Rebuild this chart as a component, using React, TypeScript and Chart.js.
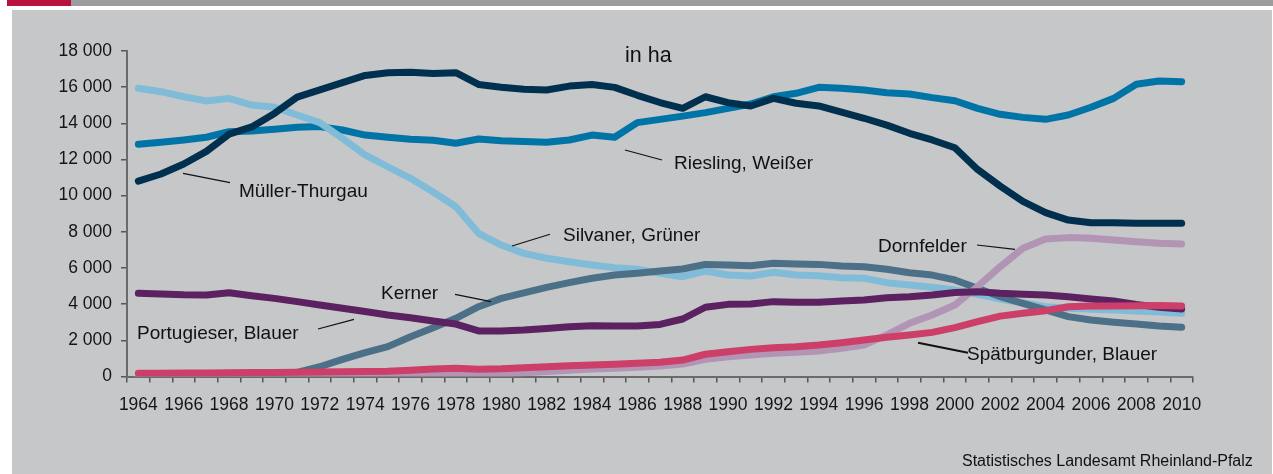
import React, { useEffect, useRef } from 'react';
import { Chart, registerables } from 'chart.js';

Chart.register(...registerables);

const years = [
  '1964', '1965', '1966', '1967', '1968', '1969', '1970', '1971', '1972', '1973',
  '1974', '1975', '1976', '1977', '1978', '1979', '1980', '1981', '1982', '1983',
  '1984', '1985', '1986', '1987', '1988', '1989', '1990', '1991', '1992', '1993',
  '1994', '1995', '1996', '1997', '1998', '1999', '2000', '2001', '2002', '2003',
  '2004', '2005', '2006', '2007', '2008', '2009', '2010',
];

const muellerThurgau = [
  10800, 11200, 11750, 12450, 13400, 13800, 14550, 15450, 15850, 16250,
  16650, 16800, 16830, 16750, 16800, 16150, 16000, 15880, 15840, 16060,
  16150, 15990, 15550, 15150, 14830, 15470, 15140, 14960, 15380, 15110,
  14960, 14620, 14280, 13900, 13450, 13080, 12650, 11450, 10530, 9680,
  9060, 8650, 8500, 8500, 8480, 8470, 8470,
];

const riesling = [
  12840, 12950, 13080, 13230, 13540, 13580, 13670, 13780, 13820, 13630,
  13350, 13230, 13120, 13060, 12900, 13130, 13040, 12990, 12950, 13080,
  13350, 13230, 14040, 14220, 14400, 14590, 14830, 15070, 15470, 15660,
  15990, 15940, 15840, 15690, 15620, 15420, 15250, 14830, 14500, 14330,
  14220, 14460, 14890, 15380, 16160, 16340, 16300,
];

const silvaner = [
  15940, 15750, 15470, 15240, 15380, 15010, 14890, 14460, 14040, 13170,
  12250, 11600, 10960, 10200, 9390, 7920, 7270, 6810, 6540, 6350,
  6170, 6020, 5930, 5710, 5520, 5830, 5610, 5560, 5760, 5610,
  5570, 5460, 5430, 5190, 5060, 4930, 4780, 4545, 4285, 4080,
  3860, 3770, 3715, 3680, 3620, 3570, 3500,
];

const kerner = [
  null, null, null, null, null, null, 50, 230, 540, 950,
  1320, 1650, 2200, 2700, 3220, 3860, 4320, 4630, 4930, 5190,
  5430, 5610, 5710, 5830, 5945, 6200, 6170, 6130, 6260, 6220,
  6200, 6110, 6070, 5930, 5740, 5610, 5340, 4880, 4410, 4050,
  3680, 3310, 3120, 3000, 2900, 2790, 2720,
];

const portugieser = [
  4600, 4560, 4520, 4510, 4630, 4470, 4320, 4140, 3950, 3770,
  3590, 3400, 3250, 3070, 2900, 2520, 2520, 2570, 2660, 2750,
  2810, 2790, 2790, 2880, 3180, 3830, 3990, 4010, 4140, 4100,
  4100, 4170, 4230, 4360, 4410, 4510, 4650, 4690, 4600, 4550,
  4510, 4410, 4290, 4180, 3990, 3830, 3730,
];

const spaetburgunder = [
  180, 185, 190, 200, 210, 215, 220, 235, 250, 260,
  270, 290, 350, 415, 450, 400, 430, 490, 540, 600,
  640, 675, 730, 785, 910, 1230, 1370, 1500, 1595, 1650,
  1740, 1870, 2020, 2170, 2300, 2440, 2700, 3030, 3340, 3500,
  3640, 3860, 3900, 3900, 3910, 3920, 3900,
];

const dornfelder = [
  0, 0, 0, 0, 0, 0, 0, 0, 0, 0,
  0, 0, 20, 50, 80, 110, 150, 210, 270, 340,
  415, 460, 510, 580, 690, 950, 1095, 1190, 1280, 1340,
  1410, 1560, 1740, 2300, 2940, 3400, 3950, 4970, 6070, 7090,
  7600, 7680, 7640, 7550, 7450, 7370, 7330,
];

const FONT = '"Liberation Sans", Arial, Helvetica, sans-serif';

function fmtThousands(v: number): string {
  if (v < 1000) return String(v);
  const th = Math.floor(v / 1000);
  const rest = String(v % 1000).padStart(3, '0');
  return `${th} ${rest}`;
}

const lineBase = {
  borderWidth: 7,
  pointRadius: 0,
  pointHoverRadius: 0,
  tension: 0,
  fill: false,
  borderCapStyle: 'round' as const,
  borderJoinStyle: 'round' as const,
  spanGaps: false,
};

const labelStyle = (left: number, cy: number, size: number): React.CSSProperties => ({
  position: 'absolute',
  left,
  top: cy - size * 0.5,
  fontSize: size,
  lineHeight: 1,
  fontFamily: FONT,
  color: '#111',
  whiteSpace: 'nowrap',
});

export default function App() {
  const ref = useRef<HTMLCanvasElement>(null);

  useEffect(() => {
    document.body.style.margin = '0';
    const ctx = ref.current!;
    const chart = new Chart(ctx, {
      type: 'line',
      data: {
        labels: years,
        datasets: [
          { ...lineBase, label: 'Müller-Thurgau', data: muellerThurgau, borderColor: '#00304e' },
          { ...lineBase, label: 'Spätburgunder, Blauer', data: spaetburgunder, borderColor: '#cc3f68' },
          { ...lineBase, label: 'Portugieser, Blauer', data: portugieser, borderColor: '#5c2160' },
          { ...lineBase, label: 'Dornfelder', data: dornfelder, borderColor: '#b294b5' },
          { ...lineBase, label: 'Kerner', data: kerner, borderColor: '#4b7087' },
          { ...lineBase, label: 'Silvaner, Grüner', data: silvaner, borderColor: '#80bcd8' },
          { ...lineBase, label: 'Riesling, Weißer', data: riesling, borderColor: '#0074a6' },
        ],
      },
      options: {
        animation: false,
        responsive: false,
        devicePixelRatio: 1,
        events: [],
        layout: { padding: { left: 0, right: 80, top: 51, bottom: 0 } },
        plugins: {
          legend: { display: false },
          tooltip: { enabled: false },
          title: { display: false },
        },
        scales: {
          x: {
            type: 'category',
            offset: true,
            grid: {
              offset: true,
              drawOnChartArea: false,
              drawTicks: true,
              tickLength: 6,
              color: '#555',
              lineWidth: 1.5,
            },
            border: { display: true, color: '#6a6a6a', width: 2 },
            ticks: {
              autoSkip: false,
              maxRotation: 0,
              minRotation: 0,
              padding: 12,
              color: '#151515',
              font: { family: FONT, size: 17.5 },
              callback: (_v: any, i: number) => (i % 2 === 0 ? years[i] : ''),
            },
            afterFit: (scale: any) => {
              scale.height = 97.5;
            },
          },
          y: {
            min: 0,
            max: 18000,
            grid: {
              drawOnChartArea: false,
              drawTicks: true,
              tickLength: 6,
              color: '#555',
              lineWidth: 1.5,
            },
            border: { display: true, color: '#6a6a6a', width: 2 },
            ticks: {
              stepSize: 2000,
              padding: 9,
              color: '#151515',
              font: { family: FONT, size: 17.5 },
              callback: (v: any) => fmtThousands(Number(v)),
            },
            afterFit: (scale: any) => {
              scale.width = 127;
            },
          },
        },
      },
    });
    return () => chart.destroy();
  }, []);

  return (
    <div
      style={{
        position: 'absolute',
        left: 0,
        top: 0,
        width: 1273,
        height: 474,
        overflow: 'hidden',
        background: '#ffffff',
        fontFamily: FONT,
      }}
    >
      <div style={{ position: 'absolute', left: 7, top: 0, width: 64, height: 6, background: '#b9123f' }} />
      <div style={{ position: 'absolute', left: 71, top: 0, width: 1202, height: 6, background: '#9c9c9c' }} />
      <div style={{ position: 'absolute', left: 12, top: 10, width: 1260, height: 464, background: '#c6c7c9' }} />
      <canvas
        ref={ref}
        width={1273}
        height={474}
        style={{ position: 'absolute', left: 0, top: 0, width: 1273, height: 474 }}
      />
      <svg
        width={1273}
        height={474}
        style={{ position: 'absolute', left: 0, top: 0, pointerEvents: 'none' }}
      >
        <g stroke="#111" strokeWidth={1.2} fill="none">
          <line x1={183} y1={173.3} x2={230} y2={182.7} />
          <line x1={625} y1={150} x2={662} y2={160} />
          <line x1={512} y1={246} x2={550} y2={234.3} />
          <line x1={455} y1={294.3} x2={491} y2={301.7} />
          <line x1={318} y1={329} x2={354} y2={319.3} />
          <line x1={977} y1={245} x2={1015} y2={249.3} />
          <line x1={918} y1={342.7} x2={968} y2={352.7} strokeWidth={2} />
        </g>
      </svg>
      <div style={labelStyle(625, 56, 21.5)}>in ha</div>
      <div style={labelStyle(239, 190, 19)}>Müller-Thurgau</div>
      <div style={labelStyle(674, 162.7, 19)}>Riesling, Weißer</div>
      <div style={labelStyle(563, 234, 19)}>Silvaner, Grüner</div>
      <div style={labelStyle(381, 292.7, 19)}>Kerner</div>
      <div style={labelStyle(137, 332, 19)}>Portugieser, Blauer</div>
      <div style={labelStyle(878, 245.7, 19)}>Dornfelder</div>
      <div style={labelStyle(967, 353.3, 19)}>Spätburgunder, Blauer</div>
      <div style={labelStyle(962, 461, 16)}>Statistisches Landesamt Rheinland-Pfalz</div>
    </div>
  );
}
